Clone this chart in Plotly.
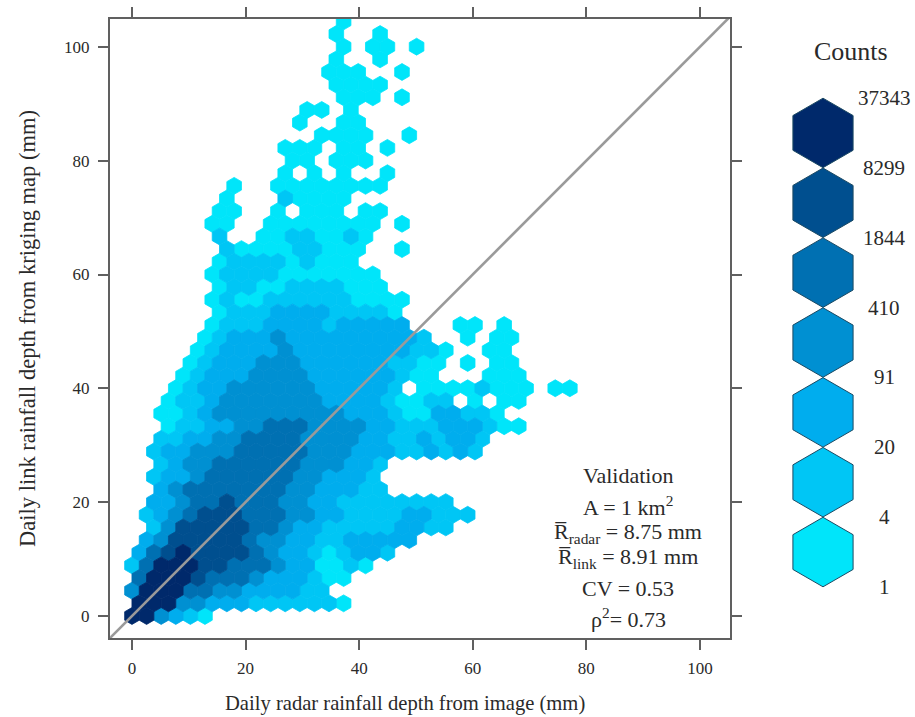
import plotly.graph_objects as go

W, H = 915, 717

# Hexbin: one string per bin row (bottom row first),
# one character per bin column; "." = empty bin, 1-7 = count class.
hex_rows = [
    "774321",
    "777443332222221",
    "47775544333322",
    "577765554333211",
    "25777665554331121",
    "356766665433212332",
    ".3466666544332233333",
    ".246666655433222223322",
    ".23456665554433222233222",
    ".3345565554433" + "22222222",
    "..34" + "5555555" + "4433322",
    ".2334" + "555555" + "443332",
    "..2344" + "555555" + "444332",
    ".233444" + "55555" + "444333223232",
    "..223344" + "5555" + "4444" + "332232332",
    "..1223344" + "555" + "4444" + "33222333211",
    "..1123" + "444444444" + "333" + "211" + "33" + "221",
    "..1223" + "4444444" + "3333" + "2" + "11" + "22" + "." + "1" + "." + "11",
    "...1233" + "444444" + "33333" + "2." + "1111" + "2" + "111" + "." + "11",
    "...12333" + "4444" + "333333" + "211" + "..." + "111",
    "....12333" + "444" + "333333" + "2211" + "." + "1" + "." + "11",
    "....12" + "3333" + "4" + "33333333" + "221" + ".." + "11",
    ".....12" + "333" + "4" + "333333333" + "2" + ".." + "1" + "." + "11",
    ".....1" + "222" + "3333" + "2" + "33333" + "..." + "11" + "." + "1",
    "......1" + "222" + "3333" + "2222" + "1",
    ".....12" + "11" + "222222" + "1111",
    "......1" + "22" + "11" + "2222" + "111",
    ".....1" + "2222" + "1111111",
    "......1" + "2222" + "1" + "2" + "111",
    "......2" + "1111" + "22" + "111" + ".." + "1",
    "......2" + ".." + "11" + "22" + "11" + "2" + "1",
    ".....11" + ".." + "11111111" + "." + "1",
    "......11..1.111.11",
    "......1" + "..." + "2" + "1111",
    ".......1" + ".." + "11111111",
    ".........." + "1.1.1..1",
    "..........." + "11.111",
    ".........." + "111.11.1",
    "............." + "1111..1",
    "..........." + "1..11",
    "............" + "11.1",
    ".............." + "111.1",
    ".............." + "1111",
    "............." + "111..1",
    ".............." + "1..1",
    ".............." + "1.11.1",
    ".............." + "1..1",
    ".............." + "1",
]
bin_width_x = 2.57
bin_height_y = 2.223

count_labels = ["37343", "8299", "1844", "410", "91", "20", "4", "1"]
class_colors = ["#00E5FA", "#00C6F5", "#00ADEE", "#0090D2", "#0070B2", "#004F8F", "#00296B"]
tick_values = [0, 20, 40, 60, 80, 100]
x_title = "Daily radar rainfall depth from image (mm)"
y_title = "Daily link rainfall depth from kriging map (mm)"
stats_lines = [
    "Validation",
    "A = 1 km<sup>2</sup>",
    "R\u0305<sub>radar</sub> = 8.75 mm",
    "R\u0305<sub>link</sub> = 8.91 mm",
    "CV = 0.53",
    "\u03c1<sup>2</sup>= 0.73",
]
stats_y_px = [475, 506, 533, 558, 588, 618]

SERIF = "Liberation Serif, Times New Roman, serif"
INK = "#2a2a2a"
AXIS = "#606060"

fig = go.Figure()

for level in range(1, 8):
    xs, ys = [], []
    for r, row in enumerate(hex_rows):
        for c, ch in enumerate(row):
            if ch == str(level):
                xs.append((c + 0.5 * (r % 2)) * bin_width_x)
                ys.append(r * bin_height_y)
    col = class_colors[level - 1]
    fig.add_trace(go.Scatter(
        x=xs, y=ys, mode="markers", showlegend=False, hoverinfo="skip",
        marker=dict(symbol="hexagon", size=16.9, color=col, line=dict(color=col, width=0.8)),
    ))

fig.add_trace(go.Scatter(
    x=[-10, 110], y=[-10, 110], mode="lines", showlegend=False, hoverinfo="skip",
    line=dict(color="#9a9a9a", width=2.6),
))

# colour key
key_positions = list(range(len(count_labels)))
fig.add_trace(go.Scatter(
    x=[0.3] * 7, y=[p + 0.5 for p in key_positions[:-1]], xaxis="x2", yaxis="y2",
    mode="markers", showlegend=False, hoverinfo="skip", cliponaxis=False,
    marker=dict(symbol="hexagon", size=69.5, color=class_colors[::-1],
                line=dict(color="#1c4a63", width=1)),
))

axis_common = dict(
    tickmode="array", tickvals=tick_values, ticks="outside", ticklen=10, tickwidth=1.5,
    tickcolor=AXIS, showline=True, linecolor=AXIS, linewidth=2, mirror="ticks",
    showgrid=False, zeroline=False, automargin=False,
    tickfont=dict(family=SERIF, size=17, color=INK),
)

annotations = [dict(
    x=628 / W, y=1 - py / H, xref="paper", yref="paper", text=t, showarrow=False,
    xanchor="center", yanchor="middle", font=dict(family=SERIF, size=22, color=INK),
) for t, py in zip(stats_lines, stats_y_px)]
annotations += [dict(
    x=0.91, y=p, xref="x2", yref="y2", text=label, showarrow=False,
    xanchor="center", yanchor="middle", font=dict(family=SERIF, size=21, color=INK),
) for p, label in zip(key_positions, count_labels)]
annotations.append(dict(
    x=851 / W, y=1 - 52 / H, xref="paper", yref="paper", text="Counts", showarrow=False,
    xanchor="center", yanchor="middle", font=dict(family=SERIF, size=26, color=INK),
))
annotations.append(dict(
    x=405 / W, y=1 - 703 / H, xref="paper", yref="paper", text=x_title, showarrow=False,
    xanchor="center", yanchor="middle", font=dict(family=SERIF, size=20.6, color=INK),
))

fig.update_layout(
    width=W, height=H, margin=dict(l=0, r=0, t=0, b=0),
    paper_bgcolor="white", plot_bgcolor="white",
    xaxis=dict(domain=[110 / W, 730 / W], range=[-3.87, 105.3], ticklabelstandoff=4,
               **axis_common),
    yaxis=dict(domain=[1 - 638 / H, 1 - 19 / H], range=[-3.87, 104.9], ticklabelstandoff=5,
               title=dict(text=y_title, standoff=22, font=dict(family=SERIF, size=22.5, color=INK)),
               **axis_common),
    xaxis2=dict(domain=[793 / W, 893 / W], range=[0, 1], visible=False, anchor="y2"),
    yaxis2=dict(domain=[1 - 587 / H, 1 - 98 / H], range=[7, 0], visible=False, anchor="x2"),
    annotations=annotations,
)

fig.write_html("out.html", config=dict(displayModeBar=False),
               post_script="document.body.style.margin='0';document.documentElement.style.overflow='hidden';")
